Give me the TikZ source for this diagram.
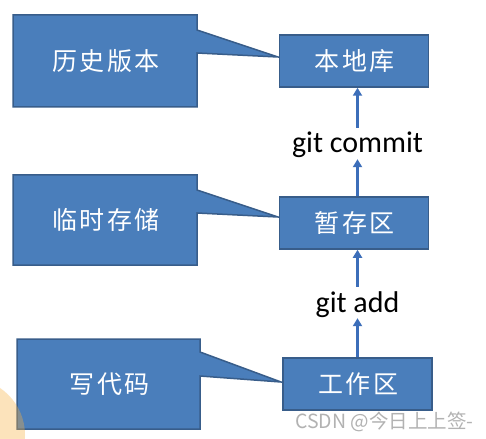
\documentclass[tikz,border=0pt]{standalone}
\usepackage{fontspec}
\setmainfont{Carlito}
\newfontfamily\cjk[LetterSpace=10]{Noto Sans CJK SC}
\newfontfamily\wmfont{Noto Sans CJK SC}
\usetikzlibrary{arrows.meta,calc}
\definecolor{boxfill}{RGB}{74,126,187}
\definecolor{boxline}{RGB}{56,93,138}
\definecolor{arrowblue}{RGB}{60,110,185}
\definecolor{orng}{RGB}{249,177,63}
\begin{document}
\begin{tikzpicture}[x=1pt,y=-1pt,
  stagebox/.style={draw=boxline, fill=boxfill, line width=1.5pt, minimum width=149pt, minimum height=52pt, inner sep=0pt, text=white, font=\cjk\fontsize{25}{28}\selectfont},
  callbox/.style={draw=boxline, fill=boxfill, line width=1.5pt, line join=miter},
  calltext/.style={text=white, inner sep=0pt, font=\cjk\fontsize{25}{28}\selectfont},
  cmd/.style={font=\fontsize{30}{32}\selectfont, inner sep=0pt, text height=25pt, text depth=6pt, anchor=base},
  flow/.style={color=arrowblue, line width=2.2pt, -{Triangle[width=9pt,length=8pt]}}]
\useasboundingbox (0,0) rectangle (486,438);
\fill[white] (0,0) rectangle (486,438);
% callouts
\path[callbox] (13,15) -- (197,15) -- (197,30) -- (278,57) -- (197,53) -- (197,107) -- (13,107) -- cycle;
\path[callbox] (13,175) -- (197,175) -- (197,190) -- (278,217) -- (197,213) -- (197,265) -- (13,265) -- cycle;
\path[callbox] (17,339) -- (200,339) -- (200,352) -- (281,382) -- (200,376) -- (200,429) -- (17,429) -- cycle;
\node[calltext] (hist) at (106,61) {历史版本};
\node[calltext] (temp) at (106,220) {临时存储};
\node[calltext] (code) at (109.5,384) {写代码};
% stages
\node[stagebox] (repo) at (353.8,61) {\kern2pt本地库};
\node[stagebox] (index) at (353.8,223) {\kern2pt暂存区};
\node[stagebox] (work) at (357.5,384) {\kern2pt工作区};
% commands
\node[cmd] (commit) at (357.5,153) {git commit};
\node[cmd] (add) at (357.5,312) {git add};
\draw[flow] (index.north -| commit) -- (commit.south);
\draw[flow] (commit.north) -- (commit.north |- repo.south);
\draw[flow] (work.north -| add) -- (add.south);
\draw[flow] (add.north) -- (add.north |- index.south);
% watermark
\node[anchor=base west, text=gray!60, inner sep=0pt, font=\wmfont\fontsize{19.5}{22}\selectfont] (mark) at (295,428) {CSDN @今日上上签-};
\fill[orng, opacity=0.35] (-31.7,435) circle[radius=56.7pt];
\end{tikzpicture}
\end{document}
